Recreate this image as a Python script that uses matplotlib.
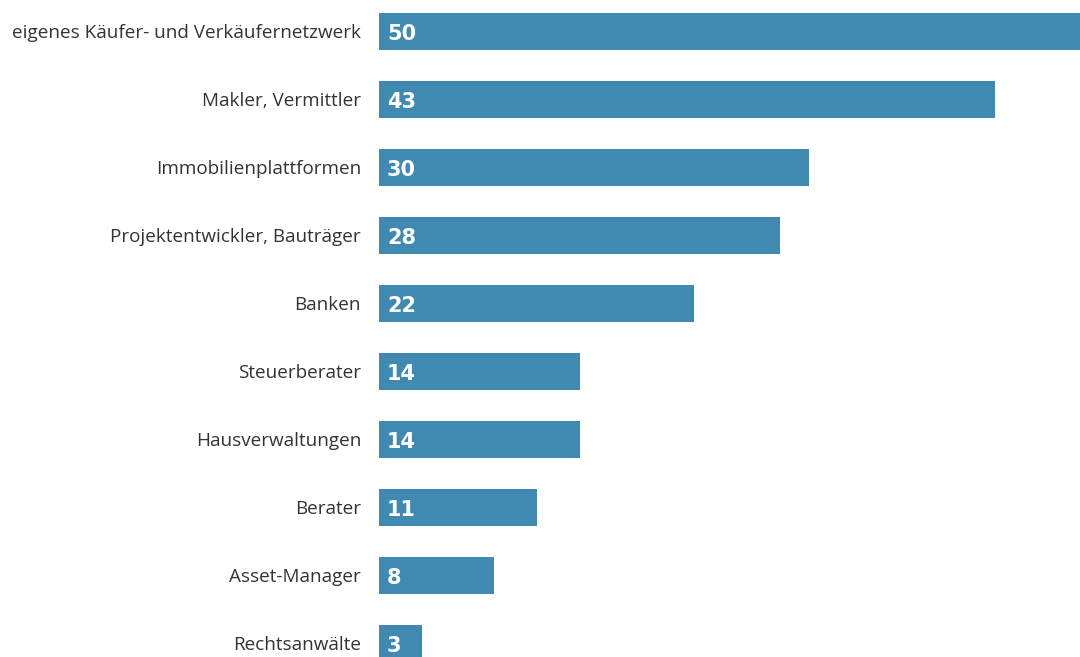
import matplotlib
matplotlib.use("Agg")
import matplotlib.pyplot as plt
from matplotlib.transforms import offset_copy

categories = [
    "eigenes Käufer- und Verkäufernetzwerk",
    "Makler, Vermittler",
    "Immobilienplattformen",
    "Projektentwickler, Bauträger",
    "Banken",
    "Steuerberater",
    "Hausverwaltungen",
    "Berater",
    "Asset-Manager",
    "Rechtsanwälte",
]
values = [50, 43, 30, 28, 22, 14, 14, 11, 8, 3]

bar_color = "#4089b1"
text_color = "#333333"

fig = plt.figure(figsize=(10.8, 6.57), dpi=100)
ax = fig.add_axes([379 / 1080, 0, 1 - 379 / 1080, 1])

pos = list(range(len(categories)))
ax.barh(pos, values, height=37 / 68, color=bar_color, linewidth=0)
ax.set_xlim(0, 701 / 14.33)
ax.set_ylim((657 - 31.5) / 68, -31.5 / 68)

ax.set_yticks([])
for s in ax.spines.values():
    s.set_visible(False)
ax.set_xticks([])

for p, c in zip(pos, categories):
    trans = offset_copy(ax.transData, fig=fig, x=-18, y=-1.5, units="dots")
    ax.text(0, p, c, transform=trans, ha="right", va="center",
            color=text_color, fontsize=13.6, family="Open Sans")

for p, v in zip(pos, values):
    trans = offset_copy(ax.transData, fig=fig, x=8, y=-2, units="dots")
    ax.text(0, p, str(v), transform=trans, ha="left", va="center",
            color="white", fontsize=15, fontweight="bold", family="DejaVu Sans")

fig.savefig("out.png", dpi=100)
